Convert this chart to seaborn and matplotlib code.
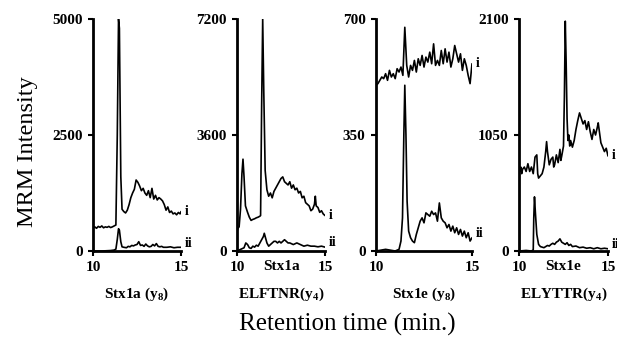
import numpy as np
import pandas as pd
import matplotlib
matplotlib.use("Agg")
import matplotlib.pyplot as plt
import seaborn as sns

# --- Stx1a (y8), panel 1 ---
t1_i = [10.0, 10.1, 10.2, 10.3, 10.4, 10.5, 10.6, 10.7, 10.8, 10.9, 11.0, 11.1, 11.2, 11.3,
        11.38, 11.45, 11.5, 11.58, 11.65, 11.75, 11.85, 11.95, 12.05, 12.15, 12.25, 12.35,
        12.45, 12.55, 12.65, 12.75, 12.85, 12.95, 13.05, 13.15, 13.25, 13.35, 13.45, 13.55,
        13.65, 13.75, 13.85, 13.95, 14.05, 14.15, 14.25, 14.35, 14.45, 14.55, 14.65, 14.75,
        14.85, 14.95, 15.0]
v1_i = [500, 520, 490, 530, 510, 540, 500, 520, 510, 530, 505, 520, 540, 560,
        2500, 5000, 4800, 1600, 900, 850, 820, 880, 1000, 1150, 1250, 1330,
        1530, 1480, 1400, 1300, 1350, 1250, 1200, 1300, 1150, 1350, 1120, 1200,
        1100, 1150, 1120, 1080, 1000, 880, 950, 830, 860, 800, 820, 780,
        830, 800, 850]
t1_ii = [10.0, 10.5, 11.0, 11.2, 11.3, 11.38, 11.45, 11.5, 11.58, 11.65, 11.75, 11.9, 12.0,
         12.1, 12.2, 12.3, 12.4, 12.5, 12.6, 12.7, 12.8, 12.9, 13.0, 13.1, 13.2, 13.3, 13.4,
         13.5, 13.6, 13.7, 13.8, 13.9, 14.0, 14.2, 14.4, 14.6, 14.8, 15.0]
v1_ii = [0, 0, 10, 20, 40, 250, 480, 450, 200, 90, 80, 70, 100,
         90, 120, 110, 130, 140, 200, 120, 130, 100, 150, 110, 90, 100, 140,
         110, 160, 100, 90, 100, 80, 80, 90, 70, 80, 80]

# --- Stx1a ELFTNR(y4), panel 2 ---
t2_i = [10.0, 10.05, 10.12, 10.2, 10.28, 10.34, 10.4, 10.48, 10.6, 10.7, 10.8, 10.9, 11.0,
        11.1, 11.2, 11.3, 11.34, 11.4, 11.46, 11.52, 11.6, 11.7, 11.8, 11.9, 12.0, 12.1,
        12.2, 12.3, 12.4, 12.5, 12.6, 12.7, 12.8, 12.9, 13.0, 13.1, 13.2, 13.3, 13.4, 13.5,
        13.6, 13.7, 13.8, 13.9, 14.0, 14.1, 14.2, 14.3, 14.4, 14.45, 14.5, 14.6, 14.7,
        14.8, 14.9, 15.0]
v2_i = [600, 700, 750, 1300, 2400, 2850, 2300, 1400, 1200, 1050, 950, 980, 1000,
        1030, 1050, 1080, 1100, 4500, 7200, 5000, 2500, 1900, 1700, 1800, 1650, 1850,
        1950, 2050, 2150, 2250, 2300, 2150, 2100, 2050, 2150, 1950, 2050, 1900, 1950, 1800,
        1850, 1650, 1700, 1500, 1450, 1400, 1250, 1300, 1450, 1700, 1400, 1350, 1200,
        1250, 1150, 1100]
t2_ii = [10.0, 10.2, 10.4, 10.5, 10.6, 10.7, 10.8, 10.9, 11.0, 11.1, 11.2, 11.3, 11.4, 11.5,
         11.55, 11.6, 11.7, 11.8, 11.9, 12.0, 12.1, 12.2, 12.3, 12.4, 12.5, 12.6, 12.7,
         12.8, 12.9, 13.0, 13.2, 13.4, 13.6, 13.8, 14.0, 14.2, 14.4, 14.6, 14.8, 15.0]
v2_ii = [0, 50, 100, 250, 200, 100, 80, 150, 120, 180, 150, 250, 350, 450,
         550, 450, 250, 150, 200, 250, 300, 300, 250, 300, 250, 300, 350,
         300, 250, 250, 200, 250, 200, 150, 180, 150, 150, 130, 150, 120]

# --- Stx1e (y8), panel 3 ---
t3_i = [10.0, 10.1, 10.2, 10.3, 10.4, 10.5, 10.6, 10.7, 10.8, 10.9, 11.0, 11.1, 11.2, 11.3,
        11.4, 11.5, 11.6, 11.7, 11.8, 11.9, 12.0, 12.1, 12.2, 12.3, 12.4, 12.5, 12.6, 12.7,
        12.8, 12.9, 13.0, 13.1, 13.2, 13.3, 13.4, 13.5, 13.6, 13.7, 13.8, 13.9, 14.0, 14.1,
        14.2, 14.3, 14.4, 14.5, 14.6, 14.7, 14.8, 14.9, 15.0]
v3_i = [500, 505, 515, 525, 520, 535, 515, 545, 525, 535, 520, 550, 540, 555,
        530, 675, 560, 525, 560, 545, 575, 540, 580, 560, 590, 555, 585, 570,
        600, 565, 625, 560, 575, 560, 605, 565, 610, 570, 600, 555, 580, 620,
        595, 570, 595, 545, 580, 560, 530, 505, 565]
t3_ii = [10.0, 10.5, 11.0, 11.2, 11.3, 11.38, 11.45, 11.5, 11.56, 11.62, 11.7, 11.8, 11.9,
         12.0, 12.1, 12.2, 12.3, 12.4, 12.5, 12.6, 12.7, 12.8, 12.9, 13.0, 13.1, 13.2, 13.3,
         13.4, 13.5, 13.6, 13.7, 13.8, 13.9, 14.0, 14.1, 14.2, 14.3, 14.4, 14.5, 14.6, 14.7,
         14.8, 14.9, 15.0]
v3_ii = [0, 5, 0, 5, 30, 100, 350, 500, 350, 150, 60, 40, 30,
         25, 50, 70, 90, 100, 85, 115, 110, 105, 120, 110, 115, 90, 145,
         100, 90, 85, 70, 80, 60, 75, 55, 70, 50, 65, 45, 60, 40,
         55, 30, 40]

# --- Stx1e ELYTTR(y4), panel 4 ---
t4_i = [10.0, 10.05, 10.1, 10.15, 10.2, 10.3, 10.4, 10.5, 10.6, 10.7, 10.8, 10.9, 11.0,
        11.05, 11.1, 11.2, 11.3, 11.4, 11.5, 11.55, 11.6, 11.7, 11.8, 11.9, 11.95, 12.0,
        12.1, 12.2, 12.3, 12.35, 12.4, 12.5, 12.55, 12.6, 12.65, 12.7, 12.75, 12.8, 12.85,
        12.9, 13.0, 13.1, 13.2, 13.3, 13.4, 13.5, 13.6, 13.7, 13.8, 13.9, 14.0, 14.1, 14.2,
        14.3, 14.4, 14.45, 14.5, 14.6, 14.7, 14.8, 14.9, 15.0]
v4_i = [780, 720, 760, 700, 740, 760, 720, 790, 720, 760, 700, 850, 870,
        700, 660, 680, 700, 760, 900, 990, 900, 780, 830, 850, 760, 780,
        870, 800, 920, 820, 860, 950, 1400, 2080, 1700, 1200, 1000, 1050, 950,
        1000, 940, 1000, 1100, 1180, 1250, 1200, 1150, 1180, 1100, 1170, 1080, 1010, 1100,
        1050, 1120, 1160, 1100, 980, 940, 900, 930, 860]
t4_ii = [10.0, 10.4, 10.7, 10.8, 10.83, 10.87, 10.92, 11.0, 11.1, 11.2, 11.3, 11.4, 11.5,
         11.6, 11.7, 11.8, 11.9, 12.0, 12.1, 12.2, 12.3, 12.4, 12.5, 12.6, 12.7, 12.8,
         12.9, 13.0, 13.2, 13.4, 13.6, 13.8, 14.0, 14.2, 14.4, 14.6, 14.8, 15.0]
v4_ii = [0, 5, 0, 10, 300, 490, 350, 150, 60, 40, 35, 30, 40,
         50, 45, 60, 70, 60, 80, 90, 110, 80, 70, 60, 75, 50,
         60, 40, 45, 30, 35, 25, 30, 20, 30, 20, 25, 20]

panels = [
    dict(ti=t1_i, vi=v1_i, tii=t1_ii, vii=v1_ii, ymax=5000, ticks=[0, 2500, 5000],
         top=None, bottom="Stx1a (y$_8$)"),
    dict(ti=t2_i, vi=v2_i, tii=t2_ii, vii=v2_ii, ymax=7200, ticks=[0, 3600, 7200],
         top="Stx1a", bottom="ELFTNR(y$_4$)"),
    dict(ti=t3_i, vi=v3_i, tii=t3_ii, vii=v3_ii, ymax=700, ticks=[0, 350, 700],
         top=None, bottom="Stx1e (y$_8$)"),
    dict(ti=t4_i, vi=v4_i, tii=t4_ii, vii=v4_ii, ymax=2100, ticks=[0, 1050, 2100],
         top="Stx1e", bottom="ELYTTR(y$_4$)"),
]

sns.set_theme(style="ticks")
plt.rcParams["font.family"] = ["Liberation Serif", "DejaVu Serif"]
plt.rcParams["text.color"] = "black"
plt.rcParams["mathtext.fontset"] = "custom"
plt.rcParams["mathtext.rm"] = "Liberation Serif:bold"
plt.rcParams["mathtext.it"] = "Liberation Serif:bold"

fig = plt.figure(figsize=(6.17, 3.38), dpi=100)
lefts = [93, 237, 376, 519]
widths = [88, 88, 96, 89]
W, H = 617, 338
bot, top = 251, 19

for p, l, w in zip(panels, lefts, widths):
    ax = fig.add_axes([l / W, 1 - bot / H, w / W, (bot - top) / H])
    sns.lineplot(x=p["ti"], y=p["vi"], ax=ax, color="black", lw=1.2,
                 estimator=None, sort=False)
    sns.lineplot(x=p["tii"], y=p["vii"], ax=ax, color="black", lw=1.2,
                 estimator=None, sort=False)
    ax.set_xlim(10, 15)
    ax.set_ylim(0, p["ymax"])
    ax.set_xticks([10, 15])
    ax.set_yticks(p["ticks"])
    ax.set_yticklabels([str(v) for v in p["ticks"]])
    sns.despine(ax=ax)
    for s in ["left", "bottom"]:
        ax.spines[s].set_linewidth(2.0)
        ax.spines[s].set_color("black")
    ax.tick_params(axis="both", direction="out", length=3.5, width=1.5,
                   color="black", labelcolor="black", labelsize=11, pad=4)
    for lab in ax.get_xticklabels() + ax.get_yticklabels():
        lab.set_fontweight("bold")
    ax.set_xlabel("")
    ax.set_ylabel("")
    # trace labels
    ax.annotate("i", (p["ti"][-1], p["vi"][-1]), xytext=(3, 0), textcoords="offset points",
                ha="left", va="center", fontsize=10, fontweight="bold", annotation_clip=False)
    ax.annotate("ii", (p["tii"][-1], p["vii"][-1]), xytext=(3, 3), textcoords="offset points",
                ha="left", va="center", fontsize=10, fontweight="bold", annotation_clip=False)
    cx = (l + w / 2) / W
    if p["top"]:
        fig.text(cx, 1 - 266 / H, p["top"], ha="center", va="center",
                 fontsize=11, fontweight="bold")
    fig.text(cx, 1 - 294 / H, p["bottom"], ha="center", va="center",
             fontsize=11, fontweight="bold")

fig.text(27 / W, 1 - 152 / H, "MRM Intensity", rotation=90, ha="center", va="center",
         fontsize=17.5)
fig.text(347 / W, 1 - 324 / H, "Retention time (min.)", ha="center", va="center",
         fontsize=18)

fig.savefig("out.png", dpi=100)
